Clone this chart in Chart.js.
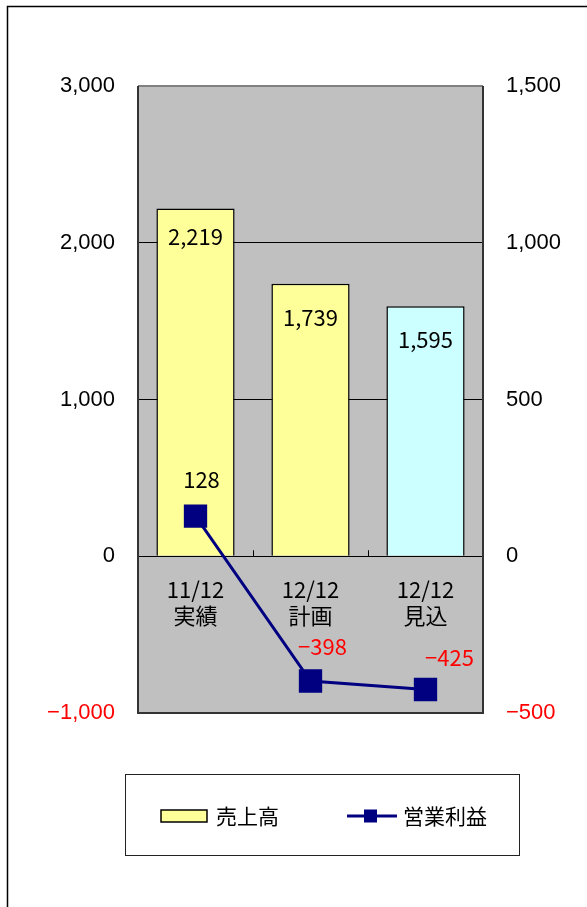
<!DOCTYPE html>
<html>
<head>
<meta charset="utf-8">
<script src="https://cdn.jsdelivr.net/npm/chart.js@4.4.1/dist/chart.umd.min.js"></script>
<style>
  body { margin: 0; background: #fff; }
  #wrap { width: 587px; height: 907px; }
</style>
</head>
<body>
<div id="wrap"><canvas id="myChart" width="587" height="907"></canvas></div>
<script>
const categories = [["11/12", "実績"], ["12/12", "計画"], ["12/12", "見込"]];
const salesValues = [2219, 1739, 1595];
const profitValues = [128, -398, -425];
const leftTicks = [-1000, 0, 1000, 2000, 3000];
const rightTicks = [-500, 0, 500, 1000, 1500];
const seriesNames = ["売上高", "営業利益"];

const JP = "'Noto Sans CJK JP', sans-serif";
const YELLOW = "#FFFF99";
const CYAN = "#CCFFFF";
const NAVY = "#000080";

function fmt(v) {
  const s = Math.abs(v).toLocaleString("en-US");
  return v < 0 ? "\u2212" + s : s;
}

// frame, gray plot area, data labels, legend box
const decor = {
  id: "decor",
  beforeDraw(chart) {
    const { ctx, chartArea: a } = chart;
    ctx.save();
    ctx.fillStyle = "#C0C0C0";
    ctx.fillRect(a.left, a.top, a.right - a.left, a.bottom - a.top);
    ctx.restore();
  },
  beforeDatasetsDraw(chart) {
    const { ctx } = chart;
    const x = chart.scales.x;
    const zero = chart.scales.y.getPixelForValue(0);
    ctx.save();
    ctx.strokeStyle = "#000";
    ctx.lineWidth = 1;
    for (let i = 0; i < categories.length - 1; i++) {
      const px = Math.round((x.getPixelForValue(i) + x.getPixelForValue(i + 1)) / 2) + 0.5;
      ctx.beginPath();
      ctx.moveTo(px, zero);
      ctx.lineTo(px, zero - 6);
      ctx.stroke();
    }
    ctx.restore();
  },
  afterDatasetsDraw(chart) {
    const { ctx, chartArea: a } = chart;
    ctx.save();
    // plot border
    ctx.lineWidth = 2;
    ctx.strokeStyle = "#808080";
    ctx.beginPath();
    ctx.moveTo(a.left, a.top);
    ctx.lineTo(a.right, a.top);
    ctx.stroke();
    ctx.strokeStyle = "#333";
    ctx.beginPath();
    ctx.moveTo(a.right, a.top);
    ctx.lineTo(a.right, a.bottom);
    ctx.lineTo(a.left, a.bottom);
    ctx.lineTo(a.left, a.top);
    ctx.stroke();

    // bar labels (inside end)
    ctx.font = "22px " + JP;
    ctx.textAlign = "center";
    ctx.textBaseline = "middle";
    ctx.fillStyle = "#000";
    const barShift = [28, 34, 33];
    chart.getDatasetMeta(0).data.forEach((bar, i) => {
      ctx.fillText(fmt(salesValues[i]), bar.x, bar.y + barShift[i]);
    });

    // line labels
    const shift = [[6, -36], [12, -34], [24, -32]];
    chart.getDatasetMeta(1).data.forEach((pt, i) => {
      const v = profitValues[i];
      ctx.fillStyle = v < 0 ? "#FF0000" : "#000";
      ctx.fillText(fmt(v), pt.x + shift[i][0], pt.y + shift[i][1]);
    });
    ctx.restore();
  },
  afterDraw(chart) {
    const { ctx } = chart;
    ctx.save();
    // outer frame
    ctx.strokeStyle = "#000";
    ctx.lineWidth = 1.5;
    ctx.beginPath();
    ctx.moveTo(7.5, 907);
    ctx.lineTo(7.5, 6.5);
    ctx.lineTo(587, 6.5);
    ctx.stroke();

    // legend
    ctx.lineWidth = 1;
    ctx.strokeStyle = "#222";
    ctx.strokeRect(125.5, 774.5, 394, 81);
    const ly = 816;
    ctx.fillStyle = YELLOW;
    ctx.fillRect(161, 810, 46, 12);
    ctx.lineWidth = 1.5;
    ctx.strokeStyle = "#000";
    ctx.strokeRect(161, 810, 46, 12);
    ctx.font = "21px " + JP;
    ctx.textAlign = "left";
    ctx.textBaseline = "middle";
    ctx.fillStyle = "#000";
    ctx.fillText(seriesNames[0], 216, ly);

    ctx.strokeStyle = NAVY;
    ctx.lineWidth = 3;
    ctx.beginPath();
    ctx.moveTo(347, ly);
    ctx.lineTo(397, ly);
    ctx.stroke();
    ctx.fillStyle = NAVY;
    ctx.fillRect(364, ly - 6.5, 13, 13);
    ctx.fillStyle = "#000";
    ctx.fillText(seriesNames[1], 403, ly);
    ctx.restore();
  }
};

const tickColor = (c) => (c.tick.value < 0 ? "#FF0000" : "#000");

const ctx = document.getElementById("myChart").getContext("2d");
const myChart = new Chart(ctx, {
  data: {
    labels: categories,
    datasets: [
      {
        type: "bar",
        label: seriesNames[0],
        data: salesValues,
        yAxisID: "y",
        backgroundColor: [YELLOW, YELLOW, CYAN],
        borderColor: "#000",
        borderWidth: 1.5,
        categoryPercentage: 1,
        barPercentage: 0.68,
        order: 2
      },
      {
        type: "line",
        label: seriesNames[1],
        data: profitValues,
        yAxisID: "y1",
        borderColor: NAVY,
        borderWidth: 3,
        pointStyle: "rect",
        pointRadius: 16.5,
        pointBackgroundColor: NAVY,
        pointBorderWidth: 0,
        tension: 0,
        order: 1
      }
    ]
  },
  options: {
    responsive: false,
    animation: false,
    devicePixelRatio: 1,
    layout: { padding: { top: 86, bottom: 194, left: 0, right: 0 } },
    plugins: {
      legend: { display: false },
      tooltip: { enabled: false }
    },
    scales: {
      x: {
        type: "category",
        position: { y: 0 },
        grid: { display: false, drawTicks: false },
        border: { display: true, color: "#000", width: 1 },
        ticks: {
          color: "#000",
          font: { family: JP, size: 22, lineHeight: 1.18 },
          padding: 20,
          maxRotation: 0,
          autoSkip: false
        }
      },
      y: {
        position: "left",
        min: leftTicks[0],
        max: leftTicks[leftTicks.length - 1],
        afterFit: (s) => { s.width = 138; },
        ticks: {
          stepSize: leftTicks[1] - leftTicks[0],
          color: tickColor,
          padding: 23,
          font: { family: "'Liberation Sans', Arial, sans-serif", size: 22 },
          callback: (v) => fmt(v)
        },
        grid: {
          drawTicks: false,
          color: (c) => (c.tick.value === 1000 || c.tick.value === 2000 ? "#000" : "rgba(0,0,0,0)"),
          lineWidth: 1
        },
        border: { display: false }
      },
      y1: {
        position: "right",
        min: rightTicks[0],
        max: rightTicks[rightTicks.length - 1],
        afterFit: (s) => { s.width = 104; },
        ticks: {
          stepSize: rightTicks[1] - rightTicks[0],
          color: tickColor,
          padding: 23,
          font: { family: "'Liberation Sans', Arial, sans-serif", size: 22 },
          callback: (v) => fmt(v)
        },
        grid: { display: false, drawTicks: false },
        border: { display: false }
      }
    }
  },
  plugins: [decor]
});
</script>
</body>
</html>
